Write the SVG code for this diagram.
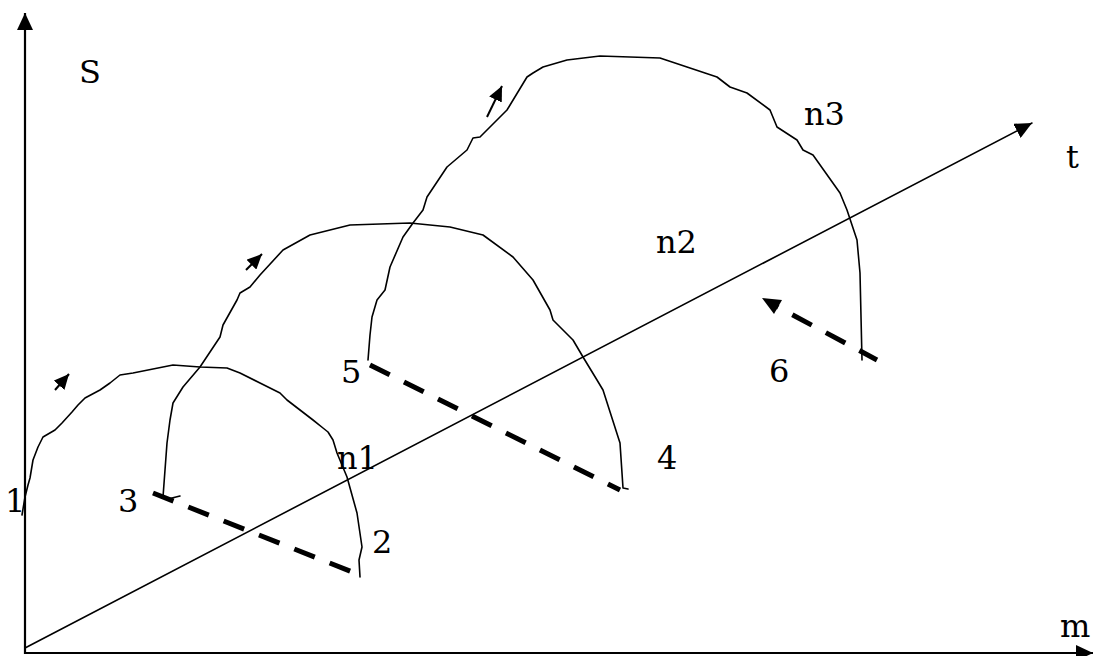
<svg xmlns="http://www.w3.org/2000/svg" width="1094" height="656" viewBox="0 0 1094 656">
<style>
.ax{stroke:#000;stroke-width:2.2;fill:none}
.ln{stroke:#000;stroke-width:1.6;fill:none;stroke-linejoin:round;stroke-linecap:round}
.ar{stroke:#000;stroke-width:2;fill:none}
.ds{stroke:#000;stroke-width:5;fill:none;stroke-dasharray:22 16}
text{font-family:'DejaVu Serif','Liberation Serif',serif;font-size:32px;fill:#000}
</style>
<defs>
<marker id="big" markerUnits="userSpaceOnUse" markerWidth="18" markerHeight="16" refX="17" refY="8" orient="auto"><path d="M0,0 L17,8 L0,16 z" fill="#000"/></marker>
<marker id="sm" markerUnits="userSpaceOnUse" markerWidth="16" markerHeight="14" refX="15" refY="7" orient="auto"><path d="M0,0 L15,7 L0,14 z" fill="#000"/></marker>
</defs>
<rect width="1094" height="656" fill="#fff"/>
<g id="axes">
<line class="ax" x1="25" y1="654" x2="25" y2="13" marker-end="url(#big)"/>
<line class="ax" x1="24" y1="653" x2="1093" y2="653" marker-end="url(#big)"/>
<line class="ln" x1="25" y1="648" x2="1032" y2="123" marker-end="url(#big)"/>
</g>
<g id="connectors">
<path id="arc1" class="ln" d="M22,515 L25,497 L28,485 L30,478 L33,460 L38,447 L43,437 L55,430 L62,423 L72,412 L78,405 L85,398 L100,390 L110,383 L120,375 L133,373 L173,365 L200,367 L227,368 L240,373 L260,383 L280,393 L287,400 L313,420 L323,428 L328,432 L333,440 L337,453 L347,477 L352,495 L357,513 L362,547 L359,560 L360,577"/>
<path id="arc2" class="ln" d="M163,497 L165,470 L167,443 L170,420 L173,403 L183,387 L200,367 L220,337 L223,325 L237,300 L240,293 L250,287 L260,275 L283,250 L310,235 L350,225 L410,223 L450,227 L483,235 L513,257 L533,280 L550,310 L553,320 L573,340 L583,357 L597,380 L603,390 L620,443 L623,488 L628,489"/>
<path class="ln" d="M168,499 L180,496"/>
<path id="arc3" class="ln" d="M368,360 L370,335 L372,317 L377,300 L385,290 L390,267 L403,237 L413,223 L423,210 L427,197 L447,167 L467,150 L473,138 L480,137 L507,110 L527,77 L533,73 L543,67 L567,60 L600,56 L660,58 L687,67 L717,77 L730,87 L747,93 L770,110 L777,127 L797,140 L803,150 L813,155 L840,193 L847,210 L857,240 L860,273 L862,360"/>
<line class="ar" x1="55" y1="390" x2="69" y2="374" marker-end="url(#sm)"/>
<line class="ar" x1="246" y1="270" x2="262" y2="254" marker-end="url(#sm)"/>
<line class="ar" x1="487" y1="117" x2="502" y2="86" marker-end="url(#sm)"/>
<line class="ds" x1="153" y1="493" x2="360" y2="575"/>
<line class="ds" x1="370" y1="365" x2="620" y2="490"/>
<line class="ds" x1="877" y1="360" x2="776" y2="306" stroke-dashoffset="2"/>
<path d="M762,298 L782,300 L774,314 z" fill="#000"/>
</g>
<g id="labels">
<text x="79" y="83">S</text>
<text x="5" y="512">1</text>
<text x="118" y="512">3</text>
<text x="337" y="469">n1</text>
<text x="372" y="553">2</text>
<text x="341" y="383">5</text>
<text x="657" y="469">4</text>
<text x="769" y="382">6</text>
<text x="656" y="253">n2</text>
<text x="804" y="125">n3</text>
<text x="1066" y="168">t</text>
<text x="1060" y="637">m</text>
</g>
</svg>
